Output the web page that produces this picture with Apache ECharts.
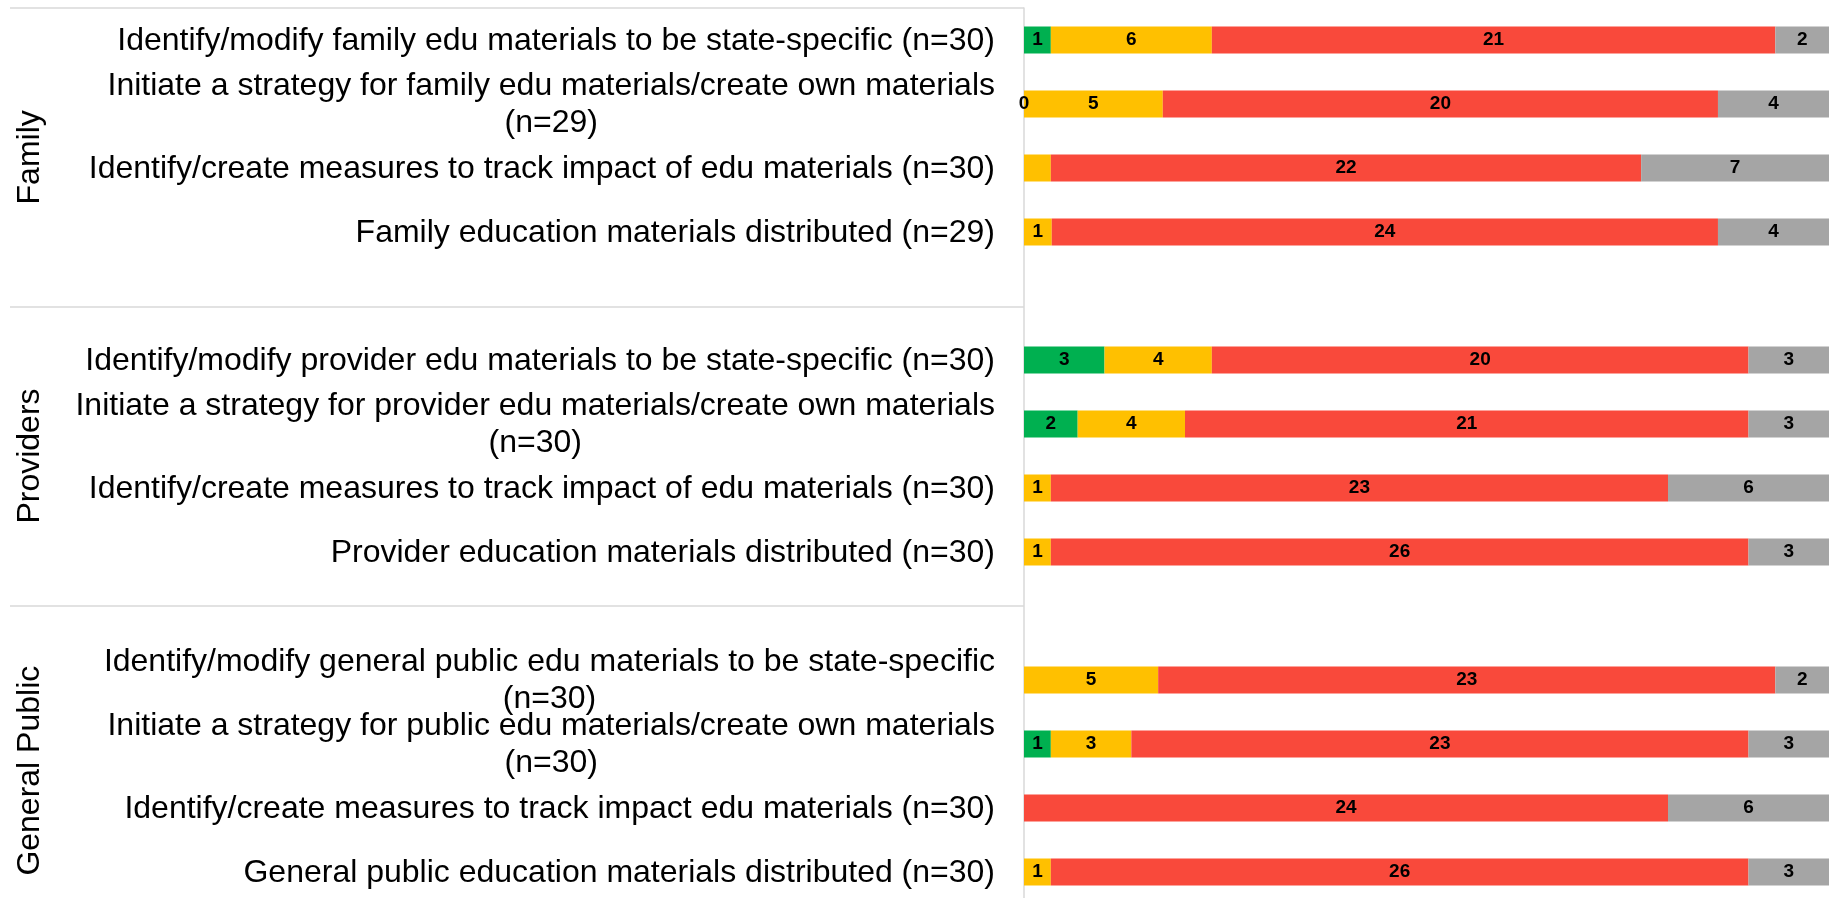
<!DOCTYPE html>
<html>
<head>
<meta charset="utf-8">
<title>Education materials progress</title>
<script src="https://cdn.jsdelivr.net/npm/echarts@6/dist/echarts.min.js"></script>
<style>
  html, body { margin: 0; padding: 0; background: #fff; }
  #chart { width: 1829px; height: 898px; }
</style>
</head>
<body>
<div id="chart"></div>
<script>
// rows top to bottom, '' and ' ' are the empty spacer rows between the groups
const categories = [
  'Identify/modify family edu materials to be state-specific (n=30)',
  'Initiate a strategy for family edu materials/create own materials\n(n=29)',
  'Identify/create measures to track impact of edu materials (n=30)',
  'Family education materials distributed (n=29)',
  '',
  'Identify/modify provider edu materials to be state-specific (n=30)',
  'Initiate a strategy for provider edu materials/create own materials\n(n=30)',
  'Identify/create measures to track impact of edu materials (n=30)',
  'Provider education materials distributed (n=30)',
  ' ',
  'Identify/modify general public edu materials to be state-specific\n(n=30)',
  'Initiate a strategy for public edu materials/create own materials\n(n=30)',
  'Identify/create measures to track impact edu materials (n=30)',
  'General public education materials distributed (n=30)'
];
const groups = ['Family', 'Providers', 'General Public'];

// counts per row (null = no segment)
const green  = [1, 0, null, null, null, 3, 2, null, null, null, null, 1, null, null];
const yellow = [6, 5, 1, 1, null, 4, 4, 1, 1, null, 5, 3, null, 1];
const red    = [21, 20, 22, 24, null, 20, 21, 23, 26, null, 23, 23, 24, 26];
const grey   = [2, 4, 7, 4, null, 3, 3, 6, 3, null, 2, 3, 6, 3];
// segments that have no count printed on them in the original
const noLabel = [['yellow', 2]];

const FONT = '"Liberation Sans", Arial, sans-serif';

// 100% stacked: each row is scaled by its own total
const totals = categories.map((_, i) =>
  [green, yellow, red, grey].reduce((s, arr) => s + (arr[i] || 0), 0));

function toItems(name, counts) {
  return counts.map((c, i) => {
    if (c === null) return '-';
    const item = { value: c / totals[i] * 100, count: c };
    if (noLabel.some(([n, r]) => n === name && r === i)) item.label = { show: false };
    return item;
  });
}

const seriesDefs = [
  ['green', green, '#00B050'],
  ['yellow', yellow, '#FFC000'],
  ['red', red, '#F9493B'],
  ['grey', grey, '#A5A5A5']
];

const chart = echarts.init(document.getElementById('chart'));

// group label style; the last group label sits higher in the original (its block is cut off)
const groupLabel = { align: 'center', verticalAlign: 'middle', color: '#000', fontSize: 32, fontFamily: FONT };

chart.setOption({
  animation: false,
  grid: {
    left: 1024,
    right: 0,
    top: 8,
    height: 896,
    containLabel: false,
    outerBoundsMode: 'none'
  },
  xAxis: {
    type: 'value',
    min: 0,
    max: 100,
    show: false
  },
  yAxis: [
    {
      type: 'category',
      inverse: true,
      data: categories,
      axisLine: { show: true, lineStyle: { color: '#d9d9d9', width: 1.5 } },
      axisTick: { show: false },
      splitLine: { show: false },
      axisLabel: {
        interval: 0,
        margin: 29,
        color: '#000',
        fontSize: 32,
        fontFamily: FONT,
        // wrapped labels: lines centred under each other, block right-aligned
        formatter: (v) => v.trim() ? v.split('\n').map(l => '{c|' + l + '}').join('\n') : '',
        rich: {
          c: { align: 'center', fontSize: 32, lineHeight: 37, color: '#000', fontFamily: FONT, padding: [2, 0, 0, 0] }
        }
      }
    },
    {
      type: 'category',
      inverse: true,
      position: 'left',
      data: groups.map(g => g === 'General Public'
        ? { value: g, textStyle: Object.assign({ padding: [0, 32, 0, 0] }, groupLabel) }
        : g),
      axisLine: { show: false },
      axisTick: { show: true, length: 1014, lineStyle: { color: '#d9d9d9', width: 1.5 } },
      splitLine: { show: false },
      axisLabel: Object.assign({ interval: 0, rotate: 90, margin: 994 }, groupLabel)
    }
  ],
  series: seriesDefs.map(([name, counts, color]) => ({
    name: name,
    type: 'bar',
    stack: 'total',
    barWidth: 27,
    yAxisIndex: 0,
    itemStyle: { color: color },
    label: {
      show: true,
      position: 'inside',
      color: '#000',
      fontWeight: 'bold',
      fontSize: 19,
      fontFamily: FONT,
      formatter: (p) => p.data.count
    },
    data: toItems(name, counts)
  }))
});
</script>
</body>
</html>
